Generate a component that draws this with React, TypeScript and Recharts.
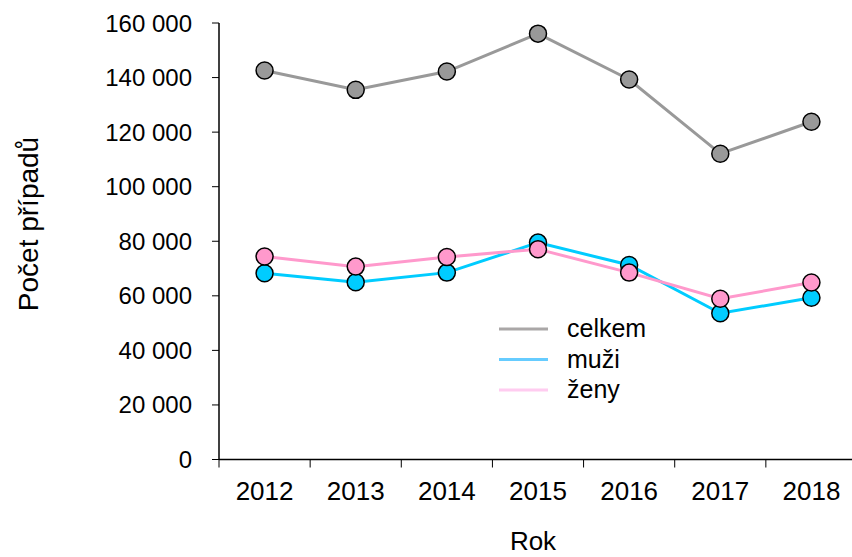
import { LineChart, Line, XAxis, YAxis } from "recharts";

const years = ["2012", "2013", "2014", "2015", "2016", "2017", "2018"];
const celkem = [142600, 135500, 142200, 156100, 139300, 112100, 123800];
const muzi = [68300, 65000, 68500, 79500, 71300, 53600, 59300];
const zeny = [74400, 70700, 74200, 77100, 68500, 58900, 64900];
const yTicks = [0, 20000, 40000, 60000, 80000, 100000, 120000, 140000, 160000];

const data = years.map((year, i) => ({
  year,
  celkem: celkem[i],
  muzi: muzi[i],
  zeny: zeny[i],
}));

const FONT = "'Liberation Sans', Arial, sans-serif";

const legendItems = [
  { name: "celkem", color: "#aaa7a7" },
  { name: "muži", color: "#66ccff" },
  { name: "ženy", color: "#ffccf0" },
];

const fmt = (v: number) =>
  v === 0 ? "0" : `${Math.floor(v / 1000)} ${String(v % 1000).padStart(3, "0")}`;

// tick marks sit between the categories, labels in the middle
const XTick = (props: any) => {
  const { x, y, payload } = props;
  const half = payload && payload.offset ? payload.offset : 45.55;
  return (
    <g>
      <line x1={x - half} x2={x - half} y1={y} y2={y + 8} stroke="#000" strokeWidth={1} />
      <text x={x} y={y + 40} textAnchor="middle" fontSize={26} fill="#000" fontFamily={FONT}>
        {payload.value}
      </text>
    </g>
  );
};

// legend drawn as an overlay so it doesn't eat into the plot area
const LegendBox = () => (
  <svg width={220} height={120} style={{ position: "absolute", left: 499, top: 306, overflow: "visible" }}>
    {legendItems.map((it, i) => (
      <g key={it.name}>
        <line x1={0} x2={49} y1={23 + i * 30.5} y2={23 + i * 30.5} stroke={it.color} strokeWidth={3} />
        <text x={68} y={23 + i * 30.5 + 8} fontSize={25} fill="#000" fontFamily={FONT}>
          {it.name}
        </text>
      </g>
    ))}
  </svg>
);

const dot = (fill: string) => ({ r: 8.5, fill, stroke: "#000", strokeWidth: 1.5 });

export default function App() {
  return (
    <div style={{ position: "fixed", left: 0, top: 0, width: 852, height: 557, overflow: "hidden", background: "#fff" }}>
      <LineChart width={860} height={557} data={data} margin={{ top: 23, right: 3, bottom: 0, left: 0 }}>
        <XAxis
          dataKey="year"
          scale="band"
          height={97.5}
          tick={<XTick />}
          tickLine={false}
          tickSize={0}
          tickMargin={0}
          axisLine={{ stroke: "#000", strokeWidth: 1.5 }}
          label={{
            content: () => (
              <text x={533} y={550} textAnchor="middle" fontSize={26} fill="#000" fontFamily={FONT}>
                Rok
              </text>
            ),
          }}
        />
        <YAxis
          domain={[0, 160000]}
          ticks={yTicks}
          width={219}
          tickSize={7}
          tickMargin={20}
          tickFormatter={fmt}
          tick={{ fontSize: 24, fill: "#000", fontFamily: FONT }}
          tickLine={{ stroke: "#000" }}
          axisLine={{ stroke: "#000", strokeWidth: 1.5 }}
          label={{
            content: () => (
              <text
                x={38}
                y={224}
                transform="rotate(-90 38 224)"
                textAnchor="middle"
                fontSize={28}
                fill="#000"
                fontFamily={FONT}
              >
                Počet případů
              </text>
            ),
          }}
        />
        <Line dataKey="celkem" stroke="#999999" strokeWidth={3} dot={dot("#999999")} isAnimationActive={false} />
        <Line dataKey="muzi" stroke="#00ccff" strokeWidth={3} dot={dot("#00ccff")} isAnimationActive={false} />
        <Line dataKey="zeny" stroke="#ff99cc" strokeWidth={3} dot={dot("#ff99cc")} isAnimationActive={false} />
      </LineChart>
      <LegendBox />
    </div>
  );
}
